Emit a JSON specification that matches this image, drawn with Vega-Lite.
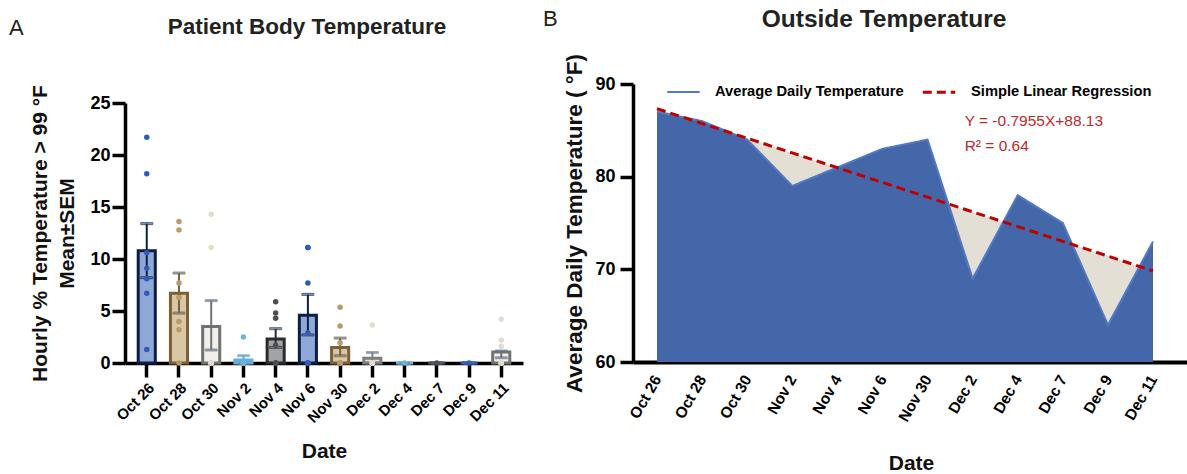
{
  "$schema": "https://vega.github.io/schema/vega-lite/v6.json",
  "padding": {"left": 8, "top": 6, "right": 0, "bottom": 0},
  "background": "white",
  "config": {
    "font": "Liberation Sans",
    "view": {"stroke": null},
    "axis": {"domainColor": "black", "tickColor": "black", "labelColor": "black", "titleColor": "#111", "grid": false, "labelFontWeight": "bold", "titleFontWeight": "bold"},
    "title": {"font": "Liberation Sans", "fontWeight": "bold", "fontSize": 22, "color": "#222"}
  },
  "resolve": {
    "scale": {"color": "independent", "fill": "independent", "stroke": "independent", "strokeDash": "independent", "strokeWidth": "independent"},
    "legend": {"color": "independent", "strokeDash": "independent", "fill": "independent", "stroke": "independent"}
  },
  "datasets": {
    "bars": [
      {"date": "Oct 26", "mean": 10.8, "lo": 8.2, "hi": 13.4},
      {"date": "Oct 28", "mean": 6.7, "lo": 4.8, "hi": 8.65},
      {"date": "Oct 30", "mean": 3.5, "lo": 1.25, "hi": 6.0},
      {"date": "Nov 2", "mean": 0.3, "lo": 0, "hi": 0.7},
      {"date": "Nov 4", "mean": 2.3, "lo": 1.5, "hi": 3.3},
      {"date": "Nov 6", "mean": 4.6, "lo": 2.7, "hi": 6.6},
      {"date": "Nov 30", "mean": 1.5, "lo": 0.7, "hi": 2.4},
      {"date": "Dec 2", "mean": 0.45, "lo": 0, "hi": 1.0},
      {"date": "Dec 4", "mean": 0, "lo": 0, "hi": 0},
      {"date": "Dec 7", "mean": 0, "lo": 0, "hi": 0},
      {"date": "Dec 9", "mean": 0, "lo": 0, "hi": 0},
      {"date": "Dec 11", "mean": 1.05, "lo": 0.5, "hi": 1.15}
    ],
    "pts": [
      {"date": "Oct 26", "v": 21.7}, {"date": "Oct 26", "v": 18.2}, {"date": "Oct 26", "v": 10.6}, {"date": "Oct 26", "v": 9.1}, {"date": "Oct 26", "v": 8.1}, {"date": "Oct 26", "v": 6.7}, {"date": "Oct 26", "v": 1.3},
      {"date": "Oct 28", "v": 13.6}, {"date": "Oct 28", "v": 12.8}, {"date": "Oct 28", "v": 7.7}, {"date": "Oct 28", "v": 6.3}, {"date": "Oct 28", "v": 4.0}, {"date": "Oct 28", "v": 3.2}, {"date": "Oct 28", "v": 0},
      {"date": "Oct 30", "v": 14.3}, {"date": "Oct 30", "v": 11.1}, {"date": "Oct 30", "v": 0}, {"date": "Oct 30", "v": 0}, {"date": "Oct 30", "v": 0}, {"date": "Oct 30", "v": 0}, {"date": "Oct 30", "v": 0},
      {"date": "Nov 2", "v": 2.5}, {"date": "Nov 2", "v": 0}, {"date": "Nov 2", "v": 0}, {"date": "Nov 2", "v": 0}, {"date": "Nov 2", "v": 0}, {"date": "Nov 2", "v": 0}, {"date": "Nov 2", "v": 0},
      {"date": "Nov 4", "v": 5.9}, {"date": "Nov 4", "v": 4.8}, {"date": "Nov 4", "v": 4.3}, {"date": "Nov 4", "v": 1.7}, {"date": "Nov 4", "v": 0}, {"date": "Nov 4", "v": 0}, {"date": "Nov 4", "v": 0},
      {"date": "Nov 6", "v": 11.1}, {"date": "Nov 6", "v": 11.1}, {"date": "Nov 6", "v": 7.7}, {"date": "Nov 6", "v": 2.9}, {"date": "Nov 6", "v": 0}, {"date": "Nov 6", "v": 0}, {"date": "Nov 6", "v": 0},
      {"date": "Nov 30", "v": 5.35}, {"date": "Nov 30", "v": 3.55}, {"date": "Nov 30", "v": 1.95}, {"date": "Nov 30", "v": 0}, {"date": "Nov 30", "v": 0}, {"date": "Nov 30", "v": 0}, {"date": "Nov 30", "v": 0},
      {"date": "Dec 2", "v": 3.65}, {"date": "Dec 2", "v": 0}, {"date": "Dec 2", "v": 0}, {"date": "Dec 2", "v": 0}, {"date": "Dec 2", "v": 0}, {"date": "Dec 2", "v": 0}, {"date": "Dec 2", "v": 0},
      {"date": "Dec 4", "v": 0}, {"date": "Dec 7", "v": 0}, {"date": "Dec 9", "v": 0},
      {"date": "Dec 11", "v": 4.2}, {"date": "Dec 11", "v": 2.2}, {"date": "Dec 11", "v": 1.6}, {"date": "Dec 11", "v": 0}, {"date": "Dec 11", "v": 0}, {"date": "Dec 11", "v": 0}, {"date": "Dec 11", "v": 0}
    ],
    "outside": [
      {"date": "Oct 26", "temp": 87, "fit": 87.33},
      {"date": "Oct 28", "temp": 86, "fit": 85.74},
      {"date": "Oct 30", "temp": 84, "fit": 84.15},
      {"date": "Nov 2", "temp": 79, "fit": 82.56},
      {"date": "Nov 4", "temp": 81, "fit": 80.97},
      {"date": "Nov 6", "temp": 83, "fit": 79.38},
      {"date": "Nov 30", "temp": 84, "fit": 77.79},
      {"date": "Dec 2", "temp": 69, "fit": 76.20},
      {"date": "Dec 4", "temp": 78, "fit": 74.61},
      {"date": "Dec 7", "temp": 75, "fit": 73.02},
      {"date": "Dec 9", "temp": 64, "fit": 71.43},
      {"date": "Dec 11", "temp": 73, "fit": 69.83}
    ],
    "notes": [
      {"date": "Dec 2", "v": 86.0, "label": "Y = -0.7955X+88.13"},
      {"date": "Dec 2", "v": 83.3, "label": "R² = 0.64"}
    ]
  },
  "spacing": 19,
  "hconcat": [
    {
      "title": {"text": "A", "anchor": "start", "fontWeight": "normal", "fontSize": 22, "offset": -24, "dx": -21},
      "vconcat": [
        {
          "width": 398,
          "height": 279,
          "title": {"text": "Patient Body Temperature", "fontSize": 22.5, "offset": 46, "dx": -17},
          "encoding": {
            "x": {
              "field": "date", "type": "nominal",
              "scale": {"domain": ["Oct 26", "Oct 28", "Oct 30", "Nov 2", "Nov 4", "Nov 6", "Nov 30", "Dec 2", "Dec 4", "Dec 7", "Dec 9", "Dec 11"], "paddingInner": 0.47, "paddingOuter": 0.41},
              "axis": {"title": "Date", "labelAngle": -45, "labelFontSize": 15, "tickSize": 14, "tickWidth": 3.5, "domainWidth": 3.5, "labelPadding": 3, "titleFontSize": 21, "titlePadding": 15}
            }
          },
          "layer": [
            {
              "data": {"name": "bars"},
              "mark": {"type": "bar", "strokeWidth": 3},
              "encoding": {
                "y": {
                  "field": "mean", "type": "quantitative",
                  "scale": {"domain": [0, 25], "nice": false, "range": [279, 19]},
                  "axis": {"title": ["Hourly % Temperature > 99 °F", "Mean±SEM"], "values": [0, 5, 10, 15, 20, 25], "tickSize": 13, "tickWidth": 3.5, "domainWidth": 3.5, "labelFontSize": 18, "labelPadding": 2, "titleFontSize": 21, "titleLineHeight": 27, "titlePadding": 12}
                },
                "fill": {
                  "field": "date", "type": "nominal", "legend": null,
                  "scale": {"domain": ["Oct 26", "Oct 28", "Oct 30", "Nov 2", "Nov 4", "Nov 6", "Nov 30", "Dec 2", "Dec 4", "Dec 7", "Dec 9", "Dec 11"],
                            "range": ["#8ea9d8", "#d9c6a5", "#f1efea", "#7ab8dc", "#a1a3a5", "#8ea9d8", "#d9c6a5", "#e6e1d5", "#6fb3d8", "#4b4f53", "#2f5cb5", "#f4f2ee"]}
                },
                "stroke": {
                  "field": "date", "type": "nominal", "legend": null,
                  "scale": {"domain": ["Oct 26", "Oct 28", "Oct 30", "Nov 2", "Nov 4", "Nov 6", "Nov 30", "Dec 2", "Dec 4", "Dec 7", "Dec 9", "Dec 11"],
                            "range": ["#0d1e45", "#7b5f37", "#717171", "#66afd6", "#2b2b2b", "#0d1e45", "#7b5f37", "#7d7d7d", "#6fb3d8", "#4b4f53", "#2f5cb5", "#717171"]}
                }
              }
            },
            {
              "data": {"name": "bars"},
              "mark": {"type": "rule", "strokeWidth": 2},
              "encoding": {
                "y": {"field": "lo", "type": "quantitative"},
                "y2": {"field": "hi"},
                "stroke": {"field": "date", "type": "nominal", "legend": null}
              }
            },
            {
              "data": {"name": "bars"},
              "mark": {"type": "tick", "thickness": 2, "size": 12},
              "encoding": {
                "y": {"field": "hi", "type": "quantitative"},
                "stroke": {"field": "date", "type": "nominal", "legend": null}
              }
            },
            {
              "data": {"name": "bars"},
              "mark": {"type": "tick", "thickness": 2, "size": 12},
              "encoding": {
                "y": {"field": "lo", "type": "quantitative"},
                "stroke": {"field": "date", "type": "nominal", "legend": null}
              }
            },
            {
              "data": {"name": "pts"},
              "mark": {"type": "circle", "size": 30, "opacity": 1},
              "encoding": {
                "y": {"field": "v", "type": "quantitative"},
                "color": {
                  "field": "date", "type": "nominal", "legend": null,
                  "scale": {"domain": ["Oct 26", "Oct 28", "Oct 30", "Nov 2", "Nov 4", "Nov 6", "Nov 30", "Dec 2", "Dec 4", "Dec 7", "Dec 9", "Dec 11"],
                            "range": ["#2f5cb5", "#b79b6b", "#e1dccf", "#6fb3d8", "#4b4f53", "#2f5cb5", "#b79b6b", "#e1dccf", "#6fb3d8", "#4b4f53", "#2f5cb5", "#e1dccf"]}
                }
              }
            }
          ]
        }
      ]
    },
    {
      "title": {"text": "B", "anchor": "start", "fontWeight": "normal", "fontSize": 22, "offset": -24, "dx": -21},
      "vconcat": [
        {
          "width": 556,
          "height": 278,
          "title": {"text": "Outside Temperature", "fontSize": 24.5, "offset": 21, "dx": -27},
          "encoding": {
            "x": {
              "field": "date", "type": "ordinal",
              "scale": {"type": "point", "domain": ["Oct 26", "Oct 28", "Oct 30", "Nov 2", "Nov 4", "Nov 6", "Nov 30", "Dec 2", "Dec 4", "Dec 7", "Dec 9", "Dec 11"], "padding": 0.665, "align": 0.4},
              "axis": {"title": "Date", "labelAngle": -60, "labelFontSize": 15.5, "ticks": false, "labelPadding": 14, "domainWidth": 4, "titleFontSize": 21, "titlePadding": 28}
            }
          },
          "layer": [
            {
              "data": {"name": "outside"},
              "mark": {"type": "area", "color": "#e4dfd4"},
              "encoding": {
                "y": {
                  "field": "fit", "type": "quantitative",
                  "scale": {"domain": [60, 90], "zero": false, "nice": false},
                  "axis": {"title": "Average Daily Temperature ( °F)", "values": [60, 70, 80, 90], "tickSize": 13, "tickWidth": 3.5, "domainWidth": 3.5, "labelFontSize": 18, "labelPadding": 5, "titleFontSize": 22.5, "titlePadding": 8}
                },
                "y2": {"datum": 60}
              }
            },
            {
              "data": {"name": "outside"},
              "mark": {"type": "area", "color": "#4467aa"},
              "encoding": {
                "y": {"field": "temp", "type": "quantitative"},
                "y2": {"datum": 60}
              }
            },
            {
              "data": {"name": "outside"},
              "transform": [{"fold": ["temp", "fit"], "as": ["series", "value"]}],
              "mark": {"type": "line"},
              "encoding": {
                "y": {"field": "value", "type": "quantitative"},
                "strokeWidth": {"field": "series", "type": "nominal", "legend": null, "scale": {"domain": ["temp", "fit"], "range": [2, 3]}},
                "color": {
                  "field": "series", "type": "nominal",
                  "scale": {"domain": ["temp", "fit"], "range": ["#5479c4", "#c00000"]},
                  "legend": {"title": null, "orient": "none", "legendX": 33, "legendY": -10, "direction": "horizontal", "symbolType": "stroke", "symbolSize": 1050, "symbolStrokeWidth": 3, "labelFontSize": 14.7, "labelFontWeight": "bold", "labelColor": "black", "labelLimit": 300, "labelOffset": 14, "columnPadding": 12, "labelExpr": "datum.label == 'temp' ? 'Average Daily Temperature' : 'Simple Linear Regression'"}
                },
                "strokeDash": {
                  "field": "series", "type": "nominal",
                  "scale": {"domain": ["temp", "fit"], "range": [[1, 0], [9, 5]]},
                  "legend": {"title": null, "orient": "none", "legendX": 33, "legendY": -10, "direction": "horizontal", "symbolType": "stroke", "symbolSize": 1050, "symbolStrokeWidth": 3, "labelFontSize": 14.7, "labelFontWeight": "bold", "labelColor": "black", "labelLimit": 300, "labelOffset": 14, "columnPadding": 12, "labelExpr": "datum.label == 'temp' ? 'Average Daily Temperature' : 'Simple Linear Regression'"}
                }
              }
            },
            {
              "data": {"name": "notes"},
              "mark": {"type": "text", "align": "left", "dx": -8, "color": "#c0282d", "fontSize": 15.5},
              "encoding": {
                "y": {"field": "v", "type": "quantitative"},
                "text": {"field": "label"}
              }
            }
          ]
        }
      ]
    }
  ]
}
